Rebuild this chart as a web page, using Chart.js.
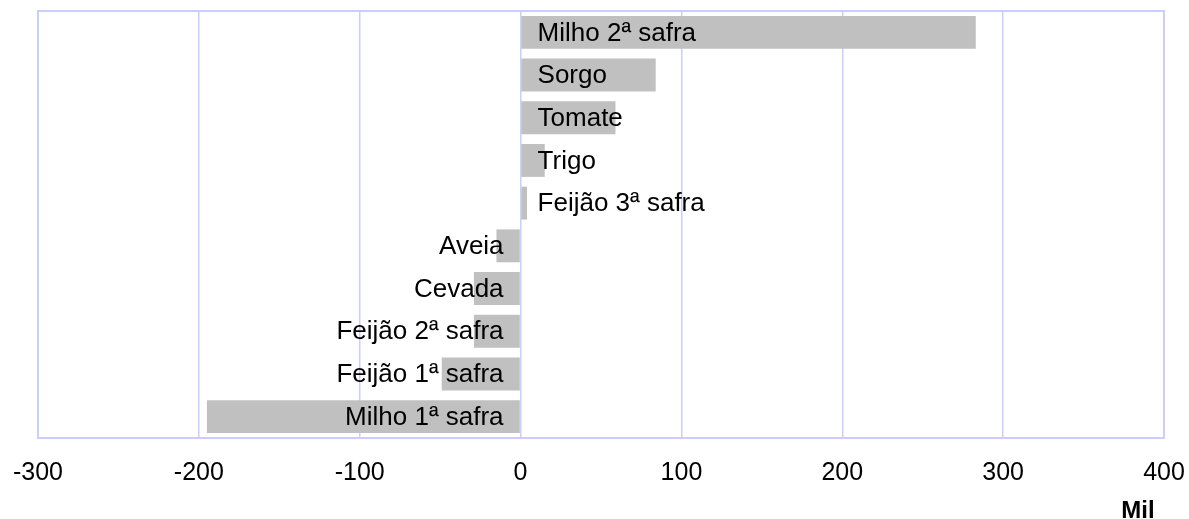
<!DOCTYPE html>
<html>
<head>
<meta charset="utf-8">
<script src="https://cdn.jsdelivr.net/npm/chart.js@4/dist/chart.umd.min.js"></script>
<style>
  html, body { margin: 0; padding: 0; background: #ffffff; }
  #wrap { width: 1189px; height: 519px; position: relative; }
</style>
</head>
<body>
<div id="wrap"><canvas id="c" width="1189" height="519"></canvas></div>
<script>
const categories = ["Milho 2ª safra", "Sorgo", "Tomate", "Trigo", "Feijão 3ª safra",
                    "Aveia", "Cevada", "Feijão 2ª safra", "Feijão 1ª safra", "Milho 1ª safra"];
const values = [283, 84, 59, 15, 4, -15, -29, -29, -49, -195];
const xTicks = [-300, -200, -100, 0, 100, 200, 300, 400];
const unitLabel = "Mil";

const FONT = "'Liberation Sans', Arial, sans-serif";
const GRID = "#ccccff";

const frame = {
  id: 'frame',
  afterDraw(chart) {
    const a = chart.chartArea, ctx = chart.ctx;
    ctx.save();
    ctx.strokeStyle = GRID;
    ctx.lineWidth = 2;
    ctx.strokeRect(a.left, a.top, a.right - a.left, a.bottom - a.top);
    ctx.font = "bold 24px " + FONT;
    ctx.fillStyle = "#000000";
    ctx.textAlign = "center";
    ctx.textBaseline = "alphabetic";
    ctx.fillText(unitLabel, a.right - 26, 518);
    ctx.restore();
  }
};

const catLabels = {
  id: 'catLabels',
  afterDatasetsDraw(chart) {
    const ctx = chart.ctx;
    const xs = chart.scales.x, ys = chart.scales.y;
    const x0 = xs.getPixelForValue(0);
    ctx.save();
    ctx.font = "26px " + FONT;
    ctx.fillStyle = "#000000";
    ctx.textBaseline = "middle";
    categories.forEach((c, i) => {
      const y = ys.getPixelForValue(i) + 1;
      if (values[i] >= 0) {
        ctx.textAlign = "left";
        ctx.fillText(c, x0 + 17, y);
      } else {
        ctx.textAlign = "right";
        ctx.fillText(c, x0 - 17, y);
      }
    });
    ctx.restore();
  }
};

new Chart(document.getElementById('c'), {
  type: 'bar',
  data: {
    labels: categories,
    datasets: [{
      data: values,
      backgroundColor: "#c0c0c0",
      borderWidth: 0,
      barPercentage: 0.77,
      categoryPercentage: 1.0
    }]
  },
  options: {
    indexAxis: 'y',
    responsive: false,
    animation: false,
    layout: { padding: { left: 38, right: 25, top: 11, bottom: 11 } },
    plugins: { legend: { display: false }, tooltip: { enabled: false } },
    scales: {
      x: {
        min: -300, max: 400,
        afterBuildTicks(scale) { scale.ticks = xTicks.map(v => ({ value: v })); },
        afterFit(scale) { scale.paddingLeft = 0; scale.paddingRight = 0; },
        grid: { color: GRID, lineWidth: 1.5, drawTicks: false },
        border: { display: false },
        ticks: {
          font: { family: FONT, size: 25 },
          color: "#000000",
          padding: 20,
          maxRotation: 0,
          autoSkip: false
        }
      },
      y: {
        display: false,
        grid: { display: false }
      }
    }
  },
  plugins: [frame, catLabels]
});
</script>
</body>
</html>
